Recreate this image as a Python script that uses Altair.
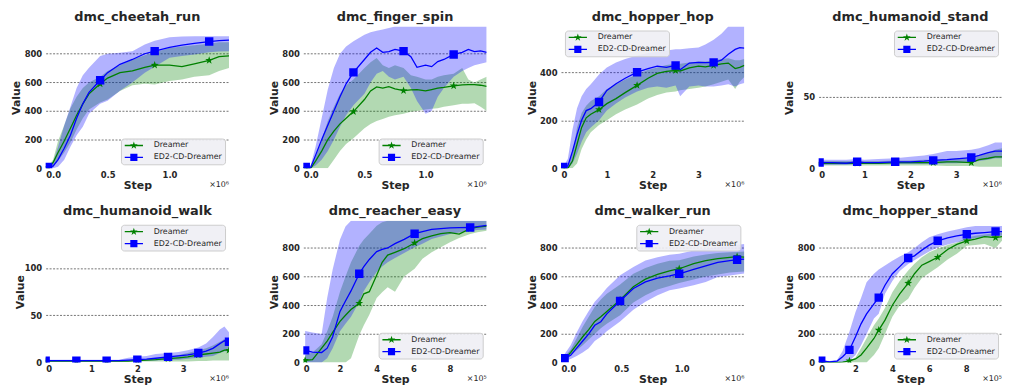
import math
import altair as alt
import pandas as pd

SERIES = ["Dreamer", "ED2-CD-Dreamer"]
TITLES = ["dmc_cheetah_run", "dmc_finger_spin", "dmc_hopper_hop", "dmc_humanoid_stand",
          "dmc_humanoid_walk", "dmc_reacher_easy", "dmc_walker_run", "dmc_hopper_stand"]

# ---------------- dmc_cheetah_run (x in 1e6) ----------------
CHEETAH_X = [0.02, 0.06, 0.1, 0.15, 0.2, 0.25, 0.3, 0.35, 0.44, 0.5, 0.6, 0.7, 0.8, 0.88, 1.0, 1.1, 1.2, 1.32, 1.4, 1.48]
CHEETAH_D_MEAN = [5, 40, 110, 190, 280, 370, 450, 520, 590, 630, 668, 680, 705, 720, 720, 710, 730, 754, 780, 785]
CHEETAH_D_LO = [0, 10, 50, 110, 180, 270, 350, 410, 460, 480, 540, 580, 590, 585, 610, 620, 640, 650, 680, 700]
CHEETAH_D_HI = [15, 60, 190, 300, 420, 500, 560, 600, 640, 680, 720, 760, 790, 810, 840, 850, 860, 870, 880, 880]
CHEETAH_E_MEAN = [10, 15, 60, 140, 230, 350, 450, 530, 615, 668, 726, 760, 800, 818, 845, 860, 872, 885, 891, 895]
CHEETAH_E_LO = [0, 0, 10, 60, 150, 230, 290, 380, 450, 472, 541, 600, 668, 710, 772, 785, 795, 810, 815, 818]
CHEETAH_E_HI = [20, 40, 150, 300, 430, 560, 650, 703, 784, 800, 807, 818, 864, 890, 915, 920, 922, 922, 922, 922]
CHEETAH_MARKS = [0.02, 0.44, 0.88, 1.32]

# ---------------- dmc_finger_spin (x in 1e6) ----------------
FINGER_X = [0.02, 0.06, 0.1, 0.15, 0.2, 0.25, 0.3, 0.35, 0.41, 0.5, 0.55, 0.6, 0.65, 0.7, 0.75, 0.82, 0.88, 0.93, 1.0, 1.05, 1.1, 1.15, 1.23, 1.3, 1.35, 1.4, 1.45, 1.5]
FINGER_D_MEAN = [0, 0, 50, 120, 200, 260, 310, 350, 396, 480, 540, 568, 560, 570, 555, 542, 548, 550, 540, 550, 560, 565, 576, 583, 585, 585, 580, 572]
FINGER_D_LO = [0, 0, 0, 0, 0, 60, 120, 170, 210, 280, 310, 330, 345, 360, 370, 380, 395, 400, 410, 415, 420, 430, 440, 450, 450, 455, 430, 400]
FINGER_D_HI = [0, 10, 80, 200, 330, 430, 520, 580, 620, 700, 740, 770, 720, 700, 720, 700, 650, 640, 620, 620, 640, 650, 660, 700, 620, 600, 620, 640]
FINGER_E_MEAN = [10, 5, 90, 200, 300, 400, 500, 590, 670, 760, 810, 840, 810, 815, 830, 818, 780, 705, 720, 710, 745, 760, 795, 810, 830, 815, 820, 810]
FINGER_E_LO = [0, 0, 20, 60, 120, 200, 290, 370, 440, 520, 600, 660, 680, 640, 620, 640, 560, 470, 380, 400, 500, 560, 640, 680, 700, 720, 730, 740]
FINGER_E_HI = [10, 20, 150, 350, 550, 700, 800, 850, 887, 933, 950, 960, 970, 980, 990, 990, 990, 990, 990, 990, 990, 990, 990, 990, 990, 990, 990, 990]
FINGER_MARKS = [0.02, 0.41, 0.82, 1.23]

# ---------------- dmc_hopper_hop (x in 1e6) ----------------
HOP_X = [0.05, 0.15, 0.25, 0.35, 0.45, 0.55, 0.65, 0.83, 1.0, 1.2, 1.4, 1.66, 1.9, 2.1, 2.3, 2.5, 2.6, 2.8, 3.0, 3.15, 3.33, 3.5, 3.65, 3.8, 3.9, 4.0]
HOP_D_MEAN = [0, 0, 30, 100, 170, 210, 225, 244, 269, 290, 315, 345, 375, 395, 403, 407, 405, 418, 425, 422, 428, 435, 438, 415, 420, 428]
HOP_D_LO = [0, 0, 0, 20, 80, 120, 150, 180, 200, 225, 245, 265, 290, 305, 315, 320, 325, 330, 335, 340, 350, 360, 370, 330, 360, 380]
HOP_D_HI = [0, 10, 60, 170, 230, 260, 280, 300, 330, 350, 370, 390, 410, 420, 430, 435, 435, 440, 445, 445, 450, 455, 458, 450, 450, 455]
HOP_E_MEAN = [5, 10, 70, 140, 200, 240, 248, 276, 324, 352, 375, 400, 415, 425, 420, 428, 410, 438, 441, 440, 441, 450, 475, 495, 502, 500]
HOP_E_LO = [0, 0, 20, 60, 110, 150, 170, 200, 240, 270, 295, 320, 335, 340, 335, 345, 300, 340, 345, 340, 340, 345, 350, 340, 350, 355]
HOP_E_HI = [5, 40, 160, 250, 300, 330, 350, 390, 420, 440, 455, 469, 480, 485, 490, 496, 495, 500, 503, 515, 535, 560, 590, 590, 590, 590]
HOP_MARKS = [0.05, 0.83, 1.66, 2.5, 3.33]

# ---------------- dmc_humanoid_stand (x in 1e6) ----------------
HSTAND_X = [0.02, 0.3, 0.6, 0.84, 1.0, 1.3, 1.67, 2.0, 2.3, 2.5, 2.8, 3.0, 3.33, 3.5, 3.7, 3.85, 4.0]
HSTAND_D_MEAN = [3.5, 3.5, 3.5, 3.5, 3.5, 3.5, 4, 4, 4, 4, 4.5, 4.5, 4, 6, 7, 8, 8]
HSTAND_D_LO = [2, 2, 2, 2, 2, 2, 2, 2, 2, 2, 1.5, 1.5, 1.5, 1, 1, 1, 1]
HSTAND_D_HI = [5, 5, 5, 5, 5, 5, 5.5, 5.5, 6, 6, 6.5, 7, 7, 9, 11, 13, 14]
HSTAND_E_MEAN = [4, 4, 3.5, 4.5, 4, 4, 4.5, 4.5, 5, 5.5, 6, 6.5, 7.5, 9, 11, 12, 12]
HSTAND_E_LO = [2.5, 2.5, 2.5, 3, 3, 3, 3, 3, 3, 3, 3.5, 3.5, 4, 5, 6, 7, 7]
HSTAND_E_HI = [6, 6, 6, 6.5, 6, 6.5, 7, 8, 9, 10, 12, 12, 13, 14, 16, 18, 18]
HSTAND_MARKS = [0.02, 0.84, 1.67, 2.5, 3.33]

# ---------------- dmc_humanoid_walk (x in 1e6) ----------------
HWALK_X = [0.0, 0.3, 0.67, 1.0, 1.33, 1.6, 1.8, 2.0, 2.2, 2.4, 2.67, 2.9, 3.1, 3.33, 3.5, 3.65, 3.8, 3.9, 4.0]
HWALK_D_MEAN = [1.5, 1.5, 1.5, 1.5, 1.5, 1.5, 1.5, 2, 2.5, 3, 4, 5, 6, 8, 9, 10, 11, 13, 13]
HWALK_D_LO = [1, 1, 1, 1, 1, 1, 1, 1, 1, 1, 1, 1, 1, 1.5, 1.5, 2, 2, 2, 2]
HWALK_D_HI = [2, 2, 2, 2, 2, 2, 2.5, 3, 3.5, 4.5, 6, 8, 10, 13, 15, 18, 22, 25, 20]
HWALK_E_MEAN = [2, 2, 2, 2, 2, 2, 2.5, 3, 3.5, 4.5, 6, 7, 8, 10, 12, 15, 20, 23, 22]
HWALK_E_LO = [1, 1, 1, 1, 1, 1, 1, 1.5, 2, 2, 3, 3, 4, 5, 6, 7, 10, 12, 12]
HWALK_E_HI = [3, 3, 3, 3, 3, 3, 5, 6, 7, 9, 10, 11, 13, 16, 20, 27, 35, 38, 32]
HWALK_MARKS = [0.0, 0.67, 1.33, 2.0, 2.67, 3.33, 4.0]

# ---------------- dmc_reacher_easy (x in 1e5) ----------------
REACH_X = [0.1, 0.5, 1.0, 1.3, 1.6, 2.0, 2.3, 2.6, 3.05, 3.3, 3.6, 4.0, 4.3, 4.6, 5.0, 5.5, 6.07, 6.5, 7.0, 7.5, 8.0, 8.5, 9.1, 9.5, 10.0]
REACH_D_MEAN = [15, 20, 100, 150, 210, 288, 330, 370, 414, 480, 495, 610, 700, 750, 770, 795, 835, 865, 885, 900, 908, 897, 935, 945, 952]
REACH_D_LO = [0, 0, 0, 0, 0, 0, 0, 30, 190, 260, 333, 450, 490, 525, 495, 600, 655, 725, 770, 805, 840, 870, 897, 910, 920]
REACH_D_HI = [50, 70, 127, 218, 320, 495, 600, 700, 815, 860, 900, 955, 980, 990, 990, 990, 990, 990, 990, 990, 990, 990, 990, 990, 990]
REACH_E_MEAN = [85, 72, 70, 100, 180, 357, 430, 500, 620, 670, 720, 775, 790, 800, 830, 860, 900, 915, 930, 935, 940, 942, 943, 950, 958]
REACH_E_LO = [0, 0, 0, 30, 100, 218, 270, 320, 425, 500, 560, 633, 670, 700, 730, 765, 805, 830, 862, 880, 897, 908, 920, 925, 930]
REACH_E_HI = [220, 210, 200, 450, 650, 860, 950, 990, 990, 990, 990, 990, 990, 990, 990, 990, 990, 990, 990, 990, 990, 990, 990, 990, 990]
REACH_MARKS = [0.1, 3.05, 6.07, 9.1]

# ---------------- dmc_walker_run (x in 1e6) ----------------
WALK_X = [0.03, 0.08, 0.13, 0.18, 0.23, 0.28, 0.33, 0.38, 0.49, 0.6, 0.7, 0.8, 0.9, 0.98, 1.1, 1.2, 1.3, 1.4, 1.46, 1.52]
WALK_D_MEAN = [25, 70, 125, 180, 230, 287, 320, 356, 437, 529, 582, 615, 640, 655, 690, 712, 725, 735, 740, 736]
WALK_D_LO = [15, 45, 85, 120, 160, 200, 240, 270, 330, 420, 470, 510, 535, 555, 580, 600, 615, 628, 633, 635]
WALK_D_HI = [40, 90, 170, 250, 320, 390, 440, 480, 545, 620, 660, 690, 710, 715, 740, 755, 765, 770, 772, 775]
WALK_E_MEAN = [30, 50, 100, 150, 200, 260, 285, 340, 430, 517, 563, 590, 605, 620, 650, 675, 700, 712, 718, 722]
WALK_E_LO = [10, 25, 45, 70, 100, 150, 180, 218, 287, 368, 425, 470, 505, 517, 540, 563, 598, 608, 615, 621]
WALK_E_HI = [60, 120, 210, 290, 360, 425, 470, 520, 610, 667, 713, 735, 752, 760, 782, 794, 805, 815, 822, 828]
WALK_MARKS = [0.03, 0.49, 0.98, 1.46]

# ---------------- dmc_hopper_stand (x in 1e5) ----------------
HSTD_X = [0.14, 0.6, 1.0, 1.3, 1.67, 2.0, 2.3, 2.6, 3.0, 3.26, 3.6, 4.0, 4.4, 4.86, 5.2, 5.6, 6.0, 6.46, 7.0, 7.5, 8.04, 8.5, 9.0, 9.6, 9.95]
HSTD_D_MEAN = [0, 0, 0, 3, 12, 25, 53, 100, 168, 226, 296, 400, 480, 554, 620, 680, 705, 735, 790, 825, 850, 862, 880, 873, 880]
HSTD_D_LO = [0, 0, 0, 0, 0, 0, 0, 0, 53, 100, 200, 320, 400, 446, 520, 590, 625, 665, 720, 760, 815, 820, 827, 800, 850]
HSTD_D_HI = [0, 0, 0, 5, 15, 35, 100, 170, 260, 307, 380, 490, 570, 642, 690, 735, 770, 795, 820, 838, 873, 885, 895, 905, 908]
HSTD_E_MEAN = [12, 5, 10, 40, 88, 180, 270, 340, 410, 453, 540, 620, 670, 730, 745, 785, 820, 850, 870, 885, 896, 903, 908, 915, 915]
HSTD_E_LO = [0, 0, 0, 5, 12, 53, 120, 200, 307, 340, 480, 570, 640, 688, 715, 745, 775, 804, 825, 840, 855, 870, 878, 883, 885]
HSTD_E_HI = [15, 10, 18, 80, 215, 353, 450, 560, 620, 650, 677, 710, 740, 770, 800, 840, 875, 896, 915, 930, 945, 954, 954, 954, 954]
HSTD_MARKS = [0.14, 1.67, 3.26, 4.86, 6.46, 8.04, 9.6]

# ---------------- axes per panel ----------------
X_MAX = [1.48, 1.5, 4.0, 4.0, 4.0, 10.0, 1.52, 9.95]
Y_MAX = [990, 990, 590, 99, 150, 990, 990, 990]
X_TICKS = [[0, 0.5, 1.0], [0, 0.5, 1.0], [0, 1, 2, 3], [0, 1, 2, 3], [0, 1, 2, 3],
           [0, 2, 4, 6, 8], [0, 0.5, 1.0], [0, 2, 4, 6, 8]]
X_FMT = [".1f", ".1f", "d", "d", "d", "d", ".1f", "d"]
X_MULT = ["×10⁶", "×10⁶", "×10⁶", "×10⁶", "×10⁶", "×10⁵", "×10⁶", "×10⁵"]
Y_TICKS = [[0, 200, 400, 600, 800], [0, 200, 400, 600, 800], [0, 200, 400], [0, 50],
           [0, 50, 100], [0, 200, 400, 600, 800], [0, 200, 400, 600, 800], [0, 200, 400, 600, 800]]
LEGEND_ORIENT = ["bottom-right", "bottom-right", "top-left", "top-right",
                 "top-right", "bottom-right", "top-right", "bottom-right"]
Y_EXT = [21, 21, 21, 21, 17, 21, 21, 21]

PANEL_DATA = [
    (CHEETAH_X, CHEETAH_D_MEAN, CHEETAH_D_LO, CHEETAH_D_HI, CHEETAH_E_MEAN, CHEETAH_E_LO, CHEETAH_E_HI, CHEETAH_MARKS),
    (FINGER_X, FINGER_D_MEAN, FINGER_D_LO, FINGER_D_HI, FINGER_E_MEAN, FINGER_E_LO, FINGER_E_HI, FINGER_MARKS),
    (HOP_X, HOP_D_MEAN, HOP_D_LO, HOP_D_HI, HOP_E_MEAN, HOP_E_LO, HOP_E_HI, HOP_MARKS),
    (HSTAND_X, HSTAND_D_MEAN, HSTAND_D_LO, HSTAND_D_HI, HSTAND_E_MEAN, HSTAND_E_LO, HSTAND_E_HI, HSTAND_MARKS),
    (HWALK_X, HWALK_D_MEAN, HWALK_D_LO, HWALK_D_HI, HWALK_E_MEAN, HWALK_E_LO, HWALK_E_HI, HWALK_MARKS),
    (REACH_X, REACH_D_MEAN, REACH_D_LO, REACH_D_HI, REACH_E_MEAN, REACH_E_LO, REACH_E_HI, REACH_MARKS),
    (WALK_X, WALK_D_MEAN, WALK_D_LO, WALK_D_HI, WALK_E_MEAN, WALK_E_LO, WALK_E_HI, WALK_MARKS),
    (HSTD_X, HSTD_D_MEAN, HSTD_D_LO, HSTD_D_HI, HSTD_E_MEAN, HSTD_E_LO, HSTD_E_HI, HSTD_MARKS),
]

COLORS = {"Dreamer": "green", "ED2-CD-Dreamer": "blue"}
FONT = "DejaVu Sans"
TXT = "#262626"
W, H = 185, 143


def star_pts(scale=1.0, inner=0.4):
    pts = []
    for k in range(10):
        a = math.radians(-90 + 36 * k)
        r = scale if k % 2 == 0 else scale * inner
        pts.append((r * math.cos(a), r * math.sin(a)))
    return pts


def poly(pts):
    return "M" + "L".join(f"{x:.3f},{y:.3f}" for x, y in pts) + "Z"


STAR = poly(star_pts())
LINE_SEG = "M-2.3,-0.17H2.3V0.17H-2.3Z"
STAR_LEG = LINE_SEG + poly(star_pts(1.0))
SQUARE_LEG = "M-2.3,-0.17H-0.9V-0.9H0.9V-0.17H2.3V0.17H0.9V0.9H-0.9V0.17H-2.3Z"


def build_df(x, dm, dl, dh, em, el, eh, marks):
    rows = []
    for s, m, lo, hi in ((SERIES[0], dm, dl, dh), (SERIES[1], em, el, eh)):
        assert len(x) == len(m) == len(lo) == len(hi)
        for xi, mi, li, hv in zip(x, m, lo, hi):
            rows.append({"x": xi, "mean": mi, "lo": li, "hi": hv, "series": s,
                         "marker": any(abs(xi - mk) < 1e-9 for mk in marks)})
    return pd.DataFrame(rows)


def make_panel(i):
    df = build_df(*PANEL_DATA[i])
    xs = alt.Scale(domain=[0, X_MAX[i]], nice=False, zero=False)
    ys = alt.Scale(domain=[0, Y_MAX[i]], nice=False, zero=False)
    xax = alt.Axis(values=X_TICKS[i], format=X_FMT[i], title="Step", grid=True,
                   gridColor="white", gridWidth=1.1, labelPadding=2, titlePadding=1)
    yax = alt.Axis(values=Y_TICKS[i], format="d", title="Value", grid=True,
                   gridColor="#333333", gridDash=[2, 1.5], gridWidth=0.8,
                   gridOpacity={"condition": {"test": "datum.value === 0", "value": 0}, "value": 0.85},
                   minExtent=Y_EXT[i], maxExtent=Y_EXT[i], labelPadding=4, titlePadding=3)
    X = alt.X("x:Q", scale=xs, axis=xax)
    base = alt.Chart(df)
    layers = []
    for s in SERIES:
        layers.append(base.transform_filter(alt.datum.series == s)
                      .mark_area(color=COLORS[s], opacity=0.3, clip=True)
                      .encode(x=X, y=alt.Y("lo:Q", scale=ys, axis=yax), y2="hi:Q"))
    for s in SERIES:
        layers.append(base.transform_filter(alt.datum.series == s)
                      .mark_line(color=COLORS[s], strokeWidth=1.3, clip=True)
                      .encode(x=X, y=alt.Y("mean:Q", scale=ys, axis=yax)))
    for s, shp, sz in ((SERIES[0], STAR, 70), (SERIES[1], "square", 72)):
        layers.append(base.transform_filter((alt.datum.series == s) & alt.datum.marker)
                      .mark_point(shape=shp, filled=True, color=COLORS[s], size=sz, opacity=1, clip=True)
                      .encode(x=X, y=alt.Y("mean:Q", scale=ys, axis=yax)))
    leg = alt.Legend(title=None, orient=LEGEND_ORIENT[i], offset=4, fillColor="rgba(238,238,244,0.9)",
                     strokeColor="#cccccc", cornerRadius=3, padding=3, labelFont=FONT,
                     labelFontSize=8, labelColor=TXT, symbolSize=64, symbolOffset=6,
                     labelOffset=16, rowPadding=4, symbolStrokeWidth=0)
    layers.append(base.transform_filter("false").mark_point(filled=True, opacity=1, size=64)
                  .encode(color=alt.Color("series:N", scale=alt.Scale(domain=SERIES, range=[COLORS[s] for s in SERIES]), legend=leg),
                          shape=alt.Shape("series:N", scale=alt.Scale(domain=SERIES, range=[STAR_LEG, SQUARE_LEG]), legend=leg)))
    layers.append(alt.Chart(pd.DataFrame({"t": [X_MULT[i]]}))
                  .mark_text(align="right", baseline="alphabetic", font=FONT, fontSize=8, color=TXT)
                  .encode(x=alt.value(W), y=alt.value(H + 19), text="t:N"))
    return alt.layer(*layers).properties(width=W, height=H, title=TITLES[i])


panels = [make_panel(i) for i in range(8)]
row1 = alt.hconcat(*panels[:4], spacing=40).resolve_scale(color="independent", shape="independent")
row2 = alt.hconcat(*panels[4:], spacing=40).resolve_scale(color="independent", shape="independent")
chart = (alt.vconcat(row1, row2, spacing=14)
         .resolve_scale(color="independent", shape="independent")
         .properties(padding={"left": 3, "top": 1, "right": 0, "bottom": 0})
         .configure_view(fill="#EAEAF2", stroke=None)
         .configure_axis(domain=False, ticks=False, labelFont=FONT, labelFontWeight="bold",
                         labelFontSize=8.5, labelColor=TXT, titleFont=FONT, titleFontWeight="bold",
                         titleFontSize=11, titleColor=TXT)
         .configure_title(font=FONT, fontSize=13, fontWeight="bold", color=TXT, offset=3, anchor="middle"))

chart.save("out.html", embed_options={"renderer": "svg", "actions": False})
